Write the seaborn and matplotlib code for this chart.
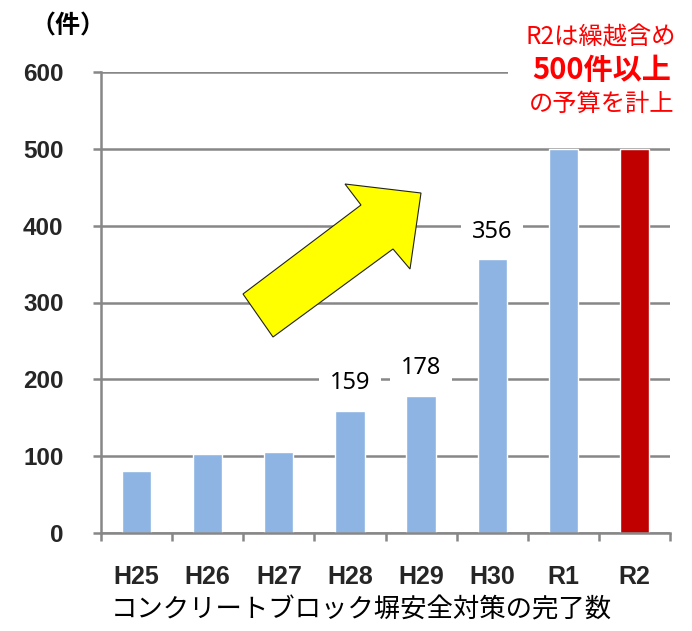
import matplotlib
matplotlib.use("Agg")
import matplotlib.pyplot as plt
from matplotlib.patches import Polygon, Rectangle
import seaborn as sns
import pandas as pd

# 年度別のコンクリートブロック塀安全対策 完了件数
categories = ["H25", "H26", "H27", "H28", "H29", "H30", "R1", "R2"]
counts = [81, 103, 105, 159, 178, 356, 500, 500]
bar_colors = ["#8DB4E2"] * 7 + ["#C00000"]
labelled = ["H28", "H29", "H30"]
y_ticks = [0, 100, 200, 300, 400, 500, 600]

sns.set_style("white")
plt.rcParams["font.family"] = ["Noto Sans CJK JP", "DejaVu Sans"]

W, H = 692, 631
fig = plt.figure(figsize=(W / 100, H / 100), dpi=100)
ax = fig.add_axes([101 / W, 1 - 533 / H, (670 - 101) / W, (533 - 72) / H])

df = pd.DataFrame({"year": categories, "count": counts})
sns.barplot(data=df, x="year", y="count", hue="year",
            palette=dict(zip(categories, bar_colors)), saturation=1,
            width=0.41, legend=False, ax=ax, zorder=2)

grid_c = "#878787"
ax.set_ylim(0, 600)
ax.set_xlim(-0.5, len(categories) - 0.5)
ax.set_yticks(y_ticks)
ax.set_yticklabels([str(t) for t in y_ticks], fontfamily="Liberation Sans",
                   fontweight="bold", fontsize=17.5)
ax.yaxis.grid(True, color=grid_c, linewidth=1.8)
ax.set_axisbelow(True)

# category boundaries carry the tick marks, centres carry the labels
ax.set_xticks([i - 0.5 for i in range(len(categories) + 1)])
ax.set_xticklabels([])
ax.set_xticks(range(len(categories)), minor=True)
ax.set_xticklabels(categories, minor=True, fontfamily="Liberation Sans",
                   fontweight="bold", fontsize=18)
ax.tick_params(axis="x", which="major", length=6, width=1.8, color=grid_c,
               direction="out", bottom=True)
ax.tick_params(axis="x", which="minor", length=0, pad=23)
ax.tick_params(axis="y", length=6, width=1.8, color=grid_c, direction="out",
               left=True, pad=21)
ax.set_xlabel("")
ax.set_ylabel("")

for side in ["top", "right"]:
    ax.spines[side].set_visible(False)
for side in ["left", "bottom"]:
    ax.spines[side].set_color(grid_c)
    ax.spines[side].set_linewidth(1.8)

# value labels for selected years
for i, (cat, v) in enumerate(zip(categories, counts)):
    if cat in labelled:
        ax.annotate(str(v), xy=(i, v), xytext=(0, 20), textcoords="offset points",
                    ha="center", va="center", fontsize=17,
                    fontfamily="Noto Sans", color="black", zorder=4,
                    bbox=dict(boxstyle="square,pad=0.45", fc="white", ec="none"))

def fx(px):
    return px / W

def fy(py):
    return 1 - py / H

# unit label
fig.text(fx(68), fy(26), "（件）", ha="center", va="center",
         fontsize=18, fontweight="bold", color="black")

# budget note for R2
fig.add_artist(Rectangle((fx(508), fy(125)), fx(692 - 508), 110 / H,
                         transform=fig.transFigure, fc="white", ec="none",
                         zorder=3))
red = "#FF0000"
fig.text(fx(601), fy(37), "R2は繰越含め", ha="center", va="center",
         fontsize=17.5, color=red, zorder=4)
fig.text(fx(602), fy(70), "500件以上", ha="center", va="center",
         fontsize=21, fontweight="bold", color=red, zorder=4)
fig.text(fx(602), fy(104), "の予算を計上", ha="center", va="center",
         fontsize=17.5, color=red, zorder=4)

# upward trend arrow
arrow_px = [(243, 294), (361, 205), (345, 184), (421, 193),
            (410, 269), (393, 249), (273, 337)]
fig.add_artist(Polygon([(fx(x), fy(y)) for x, y in arrow_px], closed=True,
                       transform=fig.transFigure, fc="#FFFF00", ec="#222222",
                       lw=0.8, zorder=5))

# axis title
fig.text(fx(361), fy(610), "コンクリートブロック塀安全対策の完了数",
         ha="center", va="center", fontsize=19, color="black")

fig.savefig("out.png", dpi=100)
